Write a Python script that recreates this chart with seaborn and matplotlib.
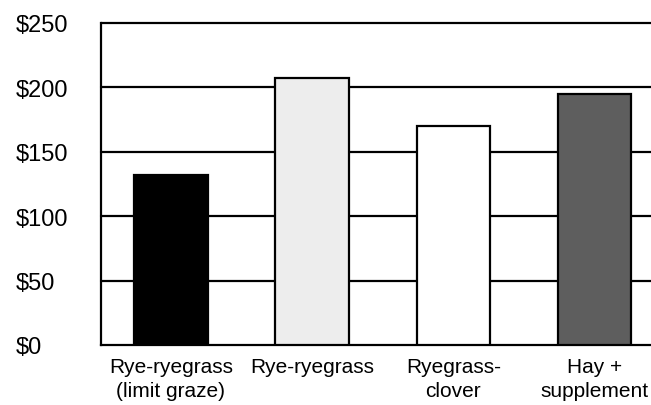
import matplotlib
matplotlib.use("Agg")
import matplotlib.pyplot as plt
import seaborn as sns
import pandas as pd

# data
systems = ["Rye-ryegrass\n(limit graze)", "Rye-ryegrass", "Ryegrass-\nclover", "Hay +\nsupplement"]
costs = [132, 207, 170, 195]
bar_colors = ["#000000", "#ededed", "#ffffff", "#5e5e5e"]
yticks = [0, 50, 100, 150, 200, 250]
ytick_labels = ["$0", "$50", "$100", "$150", "$200", "$250"]

df = pd.DataFrame({"system": systems, "cost": costs})

sns.set_style("white")
plt.rcParams["font.family"] = ["Liberation Sans", "DejaVu Sans"]

fig = plt.figure(figsize=(6.51, 4.06), dpi=100)
ax = fig.add_axes([0.155, 0.148, 0.845, 0.793])

sns.barplot(data=df, x="system", y="cost", hue="system", palette=bar_colors,
            legend=False, width=0.52, edgecolor="black", linewidth=1.6,
            saturation=1, ax=ax, zorder=3)

# horizontal rules behind the bars
for y in yticks[1:]:
    ax.axhline(y, color="black", lw=1.6, zorder=1, clip_on=False)

ax.set_ylim(0, 250)
ax.set_xlim(-0.495, 3.4)
ax.set_yticks(yticks)
ax.set_yticklabels(ytick_labels, fontsize=17, ha="left", color="black")
ax.tick_params(axis="y", length=0, pad=61)
ax.tick_params(axis="x", length=0, pad=9, labelsize=15, labelcolor="black")
for lbl in ax.get_xticklabels():
    lbl.set_linespacing(1.3)
ax.set_xlabel("")
ax.set_ylabel("")

for s in ["top", "right"]:
    ax.spines[s].set_visible(False)
for s in ["left", "bottom"]:
    ax.spines[s].set_color("black")
    ax.spines[s].set_linewidth(1.6)

plt.savefig("out.png", dpi=100)
